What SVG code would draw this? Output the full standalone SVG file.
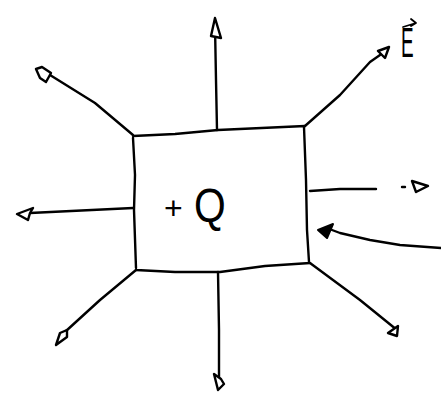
<svg xmlns="http://www.w3.org/2000/svg" width="441" height="402" viewBox="0 0 441 402">
<style>
.ln{fill:none;stroke:#000;stroke-width:2.4;stroke-linecap:round;stroke-linejoin:round}
.hd{fill:#fff;stroke:#000;stroke-width:2.4;stroke-linejoin:round}
.fh{fill:#000;stroke:#000;stroke-width:2;stroke-linejoin:round}
.t{font-family:"Liberation Sans",Arial,sans-serif;fill:#000}
</style>
<rect width="441" height="402" fill="#fff"/>
<g id="charge">
<path class="ln" d="M133,136 L175,134 L218,130 L305,126 M133,138 L135,175 L134,210 L136,268 M304,127 L306,180 L307,230 L309,262 M136,270 L175,272 L220,272 L265,266 L310,263"/>
<text class="t" x="164" y="219" font-size="32">+</text>
<text class="t" x="0" y="0" font-size="48" transform="translate(194 222) scale(0.85 1)">Q</text>
</g>
<g id="label-E">
<text class="t" x="0" y="0" font-size="42" transform="translate(401 57) scale(0.45 1)">E</text>
<path class="ln" d="M403,27 L416,23 M411,19 L416,23 L411,26" style="stroke-width:1.8"/>
</g>
<g id="connectors">
<path class="ln" d="M217,130 L216,80 L215,26"/>
<path class="hd" d="M215,18 L211,36 L221,38 Z"/>
<path class="ln" d="M305,126 L340,95 L370,62 L380,55"/>
<path class="hd" d="M389,47 L378,51 L385,58 Z"/>
<path class="ln" d="M133,135 L95,103 L50,75"/>
<path class="hd" d="M36,69 L40,78 L46,82 L51,73 L42,67 Z"/>
<path class="ln" d="M133,208 L30,213"/>
<path class="hd" d="M17,214 L33,208 L30,213 L28,220 Z"/>
<path class="ln" d="M310,191 L340,189 L376,189"/>
<path class="ln" d="M402,187 L405,187"/>
<path class="hd" d="M428,186 L412,181 L416,192 Z"/>
<path class="ln" d="M441,248 L400,245 L370,240 L340,233 L332,230"/>
<path class="fh" d="M318,230 L333,224 L327,238 Z"/>
<path class="ln" d="M136,270 L100,300 L66,331"/>
<path class="hd" d="M56,345 L60,333 L67,330 L67,337 Z"/>
<path class="ln" d="M218,272 L219,330 L219,380"/>
<path class="hd" d="M214,374 L218,390 L224,384 L221,379 Z"/>
<path class="ln" d="M310,263 L360,300 L397,330"/>
<path class="hd" d="M388,333 L398,326 L397,336 Z"/>
</g>
</svg>
